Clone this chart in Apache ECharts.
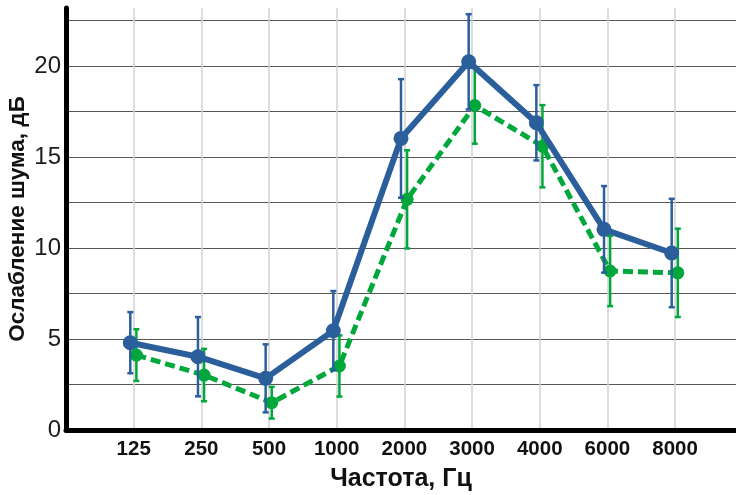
<!DOCTYPE html>
<html>
<head>
<meta charset="utf-8">
<script src="https://cdn.jsdelivr.net/npm/echarts@6/dist/echarts.min.js"></script>
<style>
html,body{margin:0;padding:0;background:#fff;}
#chart{width:736px;height:495px;}
</style>
</head>
<body>
<div id="chart"></div>
<script>
const categories = ['125', '250', '500', '1000', '2000', '3000', '4000', '6000', '8000'];
const blueMean = [4.80, 4.03, 2.84, 5.46, 16.03, 20.24, 16.89, 11.03, 9.73];
const blueErr = [1.68, 2.18, 1.87, 2.18, 3.26, 2.62, 2.07, 2.38, 2.98];
const greenMean = [4.12, 3.02, 1.50, 3.52, 12.68, 17.84, 15.60, 8.74, 8.64];
const greenErr = [1.42, 1.44, 0.87, 1.68, 2.70, 2.10, 2.26, 1.93, 2.43];
const yTickLabels = ['0', '5', '10', '15', '20'];

const BLUE = '#2b5f9c';
const GREEN = '#00a83c';
const BLUE_OFF = -0.05;
const GREEN_OFF = 0.04;

function errSeries(mean, err, off, color, z) {
  return {
    type: 'custom',
    z: z,
    silent: true,
    data: mean.map((v, i) => [i + 1 + off, v - err[i], v + err[i]]),
    encode: { x: 0, y: [1, 2] },
    renderItem: function (params, api) {
      const x = api.value(0);
      const lo = api.coord([x, api.value(1)]);
      const hi = api.coord([x, api.value(2)]);
      const cap = 3;
      const st = { stroke: color, lineWidth: 2.5 };
      return {
        type: 'group',
        children: [
          { type: 'line', shape: { x1: hi[0], y1: hi[1], x2: lo[0], y2: lo[1] }, style: st },
          { type: 'line', shape: { x1: hi[0] - cap, y1: hi[1], x2: hi[0] + cap, y2: hi[1] }, style: st },
          { type: 'line', shape: { x1: lo[0] - cap, y1: lo[1], x2: lo[0] + cap, y2: lo[1] }, style: st }
        ]
      };
    }
  };
}

const chart = echarts.init(document.getElementById('chart'));
chart.setOption({
  animation: false,
  backgroundColor: '#fff',
  grid: { left: 66, right: 0, top: 8, bottom: 65, containLabel: false, outerBoundsMode: 'none' },
  xAxis: {
    type: 'value',
    min: 0,
    max: 9.9,
    interval: 1,
    name: 'Частота, Гц',
    nameLocation: 'middle',
    nameGap: 37,
    nameTextStyle: { fontFamily: 'Liberation Sans', fontWeight: 'bold', fontSize: 25, color: '#111' },
    axisLine: { lineStyle: { color: '#000', width: 5 } },
    axisTick: { show: false },
    axisLabel: {
      margin: 9,
      fontFamily: 'Liberation Sans', fontWeight: 'bold', fontSize: 20.5, color: '#111',
      formatter: function (v) {
        return Number.isInteger(v) && v >= 1 && v <= categories.length ? categories[v - 1] : '';
      }
    },
    splitLine: { show: true, showMaxLine: false, lineStyle: { color: '#d2d2d2', width: 1.5 } }
  },
  yAxis: {
    type: 'value',
    min: 0,
    max: 23.2,
    interval: 2.5,
    name: 'Ослабление шума, дБ',
    nameLocation: 'middle',
    nameGap: 37,
    nameMoveOverlap: false,
    nameTextStyle: { fontFamily: 'Liberation Sans', fontWeight: 'bold', fontSize: 22.5, color: '#111' },
    axisLine: { show: true, lineStyle: { color: '#000', width: 5 } },
    axisTick: { show: false },
    axisLabel: {
      margin: 5,
      fontFamily: 'Liberation Sans', fontSize: 24, color: '#1c1c1c',
      formatter: function (v) {
        const s = String(v);
        return yTickLabels.indexOf(s) >= 0 ? s : '';
      }
    },
    splitLine: { show: true, showMaxLine: false, lineStyle: { color: '#555', width: 1.2 } }
  },
  series: [
    errSeries(greenMean, greenErr, GREEN_OFF, GREEN, 2),
    {
      type: 'line',
      z: 3,
      data: greenMean.map((v, i) => [i + 1 + GREEN_OFF, v]),
      symbol: 'circle',
      symbolSize: 13,
      itemStyle: { color: GREEN },
      lineStyle: { color: GREEN, width: 5, type: [10, 5] }
    },
    errSeries(blueMean, blueErr, BLUE_OFF, BLUE, 4),
    {
      type: 'line',
      z: 5,
      data: blueMean.map((v, i) => [i + 1 + BLUE_OFF, v]),
      symbol: 'circle',
      symbolSize: 15,
      itemStyle: { color: BLUE },
      lineStyle: { color: BLUE, width: 6 }
    }
  ]
});
</script>
</body>
</html>
